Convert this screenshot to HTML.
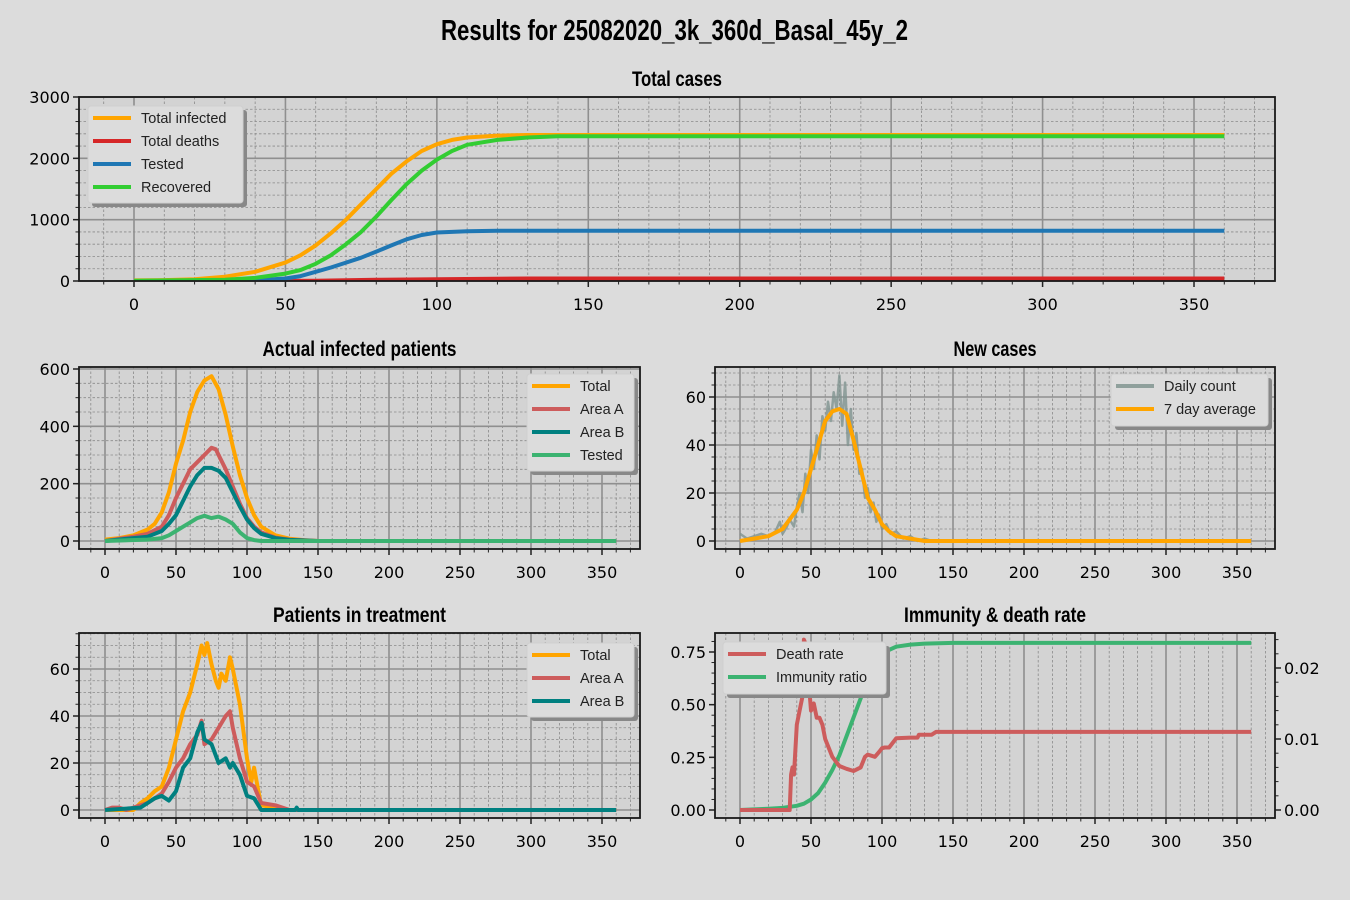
<!DOCTYPE html>
<html><head><meta charset="utf-8"><style>
body{margin:0;background:#dcdcdc;}
svg{display:block;}
text{font-family:"DejaVu Sans","Liberation Sans",sans-serif;}
.ttl{font-family:"Liberation Sans",sans-serif;font-weight:bold;}
.lg{font-family:"Liberation Sans",sans-serif;font-size:14.5px;fill:#222;}
</style></head><body>
<svg id="fig" width="1350" height="900" xmlns="http://www.w3.org/2000/svg">
<rect width="1350" height="900" fill="#dcdcdc"/>
<text class="ttl" x="441" y="40" font-size="29" textLength="467" lengthAdjust="spacingAndGlyphs">Results for 25082020_3k_360d_Basal_45y_2</text>
</svg>
<script>
// ---- data: Total cases ----
const tcDays=[0,10,20,30,40,50,55,60,65,70,75,80,85,90,95,100,105,110,120,130,360];
const tcInfected=[10,15,30,70,150,300,420,580,780,1000,1250,1500,1750,1950,2120,2230,2300,2340,2370,2380,2380];
const recDays=[0,30,40,50,55,60,65,70,75,80,85,90,95,100,105,110,120,130,140,360];
const tcRecovered=[5,20,50,120,180,280,420,600,800,1050,1320,1580,1800,1980,2120,2220,2300,2340,2360,2360];
const testDays=[0,40,50,55,60,65,70,75,80,85,90,95,100,110,120,360];
const tcTested=[0,10,40,80,150,220,300,380,480,580,680,750,790,810,820,820];
const deathDays=[0,40,60,80,100,130,360];
const tcDeaths=[0,0,5,20,30,40,40];
// ---- Actual infected ----
const aiDays=[0,10,20,30,35,40,45,50,55,60,65,70,75,80,85,90,95,100,105,110,120,130,140,150,360];
const aiTotal=[5,10,20,40,60,100,170,270,350,450,520,560,575,530,440,330,230,150,90,50,20,8,3,0,0];
const aiDaysA=[0,10,20,30,40,45,50,55,60,65,70,75,78,80,85,90,95,100,105,110,120,130,150,360];
const aiAreaA=[0,8,15,25,50,90,150,200,250,275,300,325,320,300,250,190,130,80,50,30,12,5,0,0];
const aiDaysB=[0,20,30,40,45,50,55,60,65,70,75,80,85,90,95,100,105,110,120,130,150,360];
const aiAreaB=[0,10,15,35,60,90,140,190,230,255,255,245,220,170,120,75,45,25,10,4,0,0];
const aiDaysT=[0,30,40,45,50,55,60,65,70,75,80,85,90,95,100,105,110,360];
const aiTested=[0,5,10,20,35,50,65,80,88,80,85,75,60,30,10,3,0,0];
// ---- New cases ----
const ncDays=[0,5,10,15,20,25,28,30,33,35,38,40,42,44,46,48,50,52,54,56,58,60,62,64,66,68,70,72,74,76,78,80,82,84,86,88,90,92,94,96,98,100,103,106,110,115,120,125,130,135,360];
const ncDaily=[3,1,2,3,2,4,8,3,6,9,6,14,20,12,28,20,38,30,44,34,52,46,58,50,62,55,69,48,66,40,55,38,45,28,30,18,22,12,16,8,11,5,7,3,4,1,2,0,1,0,0];
const avgDays=[0,10,20,30,40,45,50,55,60,65,70,75,80,85,90,95,100,105,110,120,130,360];
const ncAvg=[0,1,2,5,13,20,30,40,50,54,55,53,42,30,18,13,7,4,2,1,0,0];
// ---- Patients in treatment ----
const ptDays=[0,20,25,30,35,40,45,50,55,60,65,68,70,72,75,78,80,82,85,88,90,95,100,103,105,108,110,120,130,360];
const ptTotal=[0,0,3,5,8,10,18,30,42,50,62,70,66,71,62,55,52,58,55,65,60,45,22,12,18,8,2,1,0,0];
const ptDaysA=[0,5,10,15,25,30,35,40,45,50,55,60,65,68,70,75,80,85,88,90,95,100,105,110,120,125,130,360];
const ptAreaA=[0,1,1,0,2,3,5,7,12,18,22,28,32,38,28,30,35,40,42,35,22,12,10,3,2,1,0,0];
const ptDaysB=[0,25,30,35,40,45,50,55,60,65,68,70,75,80,85,88,90,95,100,105,108,110,134,135,136,360];
const ptAreaB=[0,1,3,5,6,4,8,18,22,33,37,30,28,20,22,18,20,15,6,5,2,0,0,1,0,0];
// ---- Immunity & death rate ----
const imDays=[0,10,20,30,35,40,45,50,55,60,65,70,75,80,85,90,95,100,105,110,120,130,150,360];
const imRatio=[0,0.003,0.006,0.01,0.015,0.02,0.03,0.05,0.08,0.13,0.19,0.26,0.35,0.44,0.53,0.62,0.69,0.73,0.76,0.775,0.785,0.79,0.793,0.793];
const drDays=[0,35,36,37,38,40,42,44,45,47,48,50,52,54,56,58,60,65,70,75,80,83,85,88,90,95,98,100,102,105,110,120,125,126,135,138,360];
const drRate=[0,0,0.005,0.006,0.005,0.012,0.014,0.016,0.024,0.023,0.019,0.014,0.015,0.013,0.013,0.012,0.01,0.0075,0.0062,0.0058,0.0055,0.0058,0.006,0.0075,0.0078,0.0075,0.0082,0.0087,0.0088,0.0088,0.0101,0.0102,0.0102,0.0106,0.0106,0.011,0.011];

const NS='http://www.w3.org/2000/svg';
const fig=document.getElementById('fig');
function mk(tag,attrs,parent){const e=document.createElementNS(NS,tag);for(const k in attrs)e.setAttribute(k,attrs[k]);(parent||fig).appendChild(e);return e;}
let clipN=0;
function panel(p){
  const g=mk('g',{});
  
  
  const X=d=>p.xa+d*p.xb, Y=v=>p.ya-v*p.yb;
  mk('rect',{x:p.x0,y:p.y0,width:p.x1-p.x0,height:p.y1-p.y0,fill:'#d3d3d3'},g);
  for(let d=-20;d<=380;d+=10){const x=X(d);if(x<=p.x0||x>=p.x1)continue;
    if(d%50!==0)mk('line',{x1:x,x2:x,y1:p.y0,y2:p.y1,stroke:'#8a8a8a','stroke-width':0.8,'stroke-dasharray':'2.5,2'},g);}
  if(!p.noY){for(let v=p.ymin;v<=p.ymax+1e-9;v+=p.yminor){const y=Y(v);if(y<=p.y0||y>=p.y1)continue;
    if(Math.abs(v/p.ymajor-Math.round(v/p.ymajor))>1e-6)mk('line',{x1:p.x0,x2:p.x1,y1:y,y2:y,stroke:'#8a8a8a','stroke-width':0.8,'stroke-dasharray':'2.5,2'},g);}}
  for(let d=0;d<=350;d+=50){const x=X(d);mk('line',{x1:x,x2:x,y1:p.y0,y2:p.y1,stroke:'#8f8f8f','stroke-width':1.6},g);
    mk('line',{x1:x,x2:x,y1:p.y1,y2:p.y1+6,stroke:'#222','stroke-width':1.5},g);
    const t=mk('text',{x:x,y:p.y1+29,'font-size':16,'text-anchor':'middle'},g);t.textContent=d;
    
    }
  for(let d=-20;d<=380;d+=10){const x=X(d);if(x<p.x0||x>p.x1||d%50===0)continue;
    mk('line',{x1:x,x2:x,y1:p.y1,y2:p.y1+3.5,stroke:'#222','stroke-width':1},g);}
  for(let i=0;i<p.yticks.length;i++){const v=p.yticks[i];const y=Y(v);
    if(!p.noY)mk('line',{x1:p.x0,x2:p.x1,y1:y,y2:y,stroke:'#8f8f8f','stroke-width':1.6},g);
    mk('line',{x1:p.x0-6,x2:p.x0,y1:y,y2:y,stroke:'#222','stroke-width':1.5},g);
    const t=mk('text',{x:p.x0-9,y:y+6,'font-size':16,'text-anchor':'end'},g);t.textContent=p.ylabels[i];
    
    }
  for(let v=p.ymin;v<=p.ymax+1e-9;v+=p.yminor){const y=Y(v);if(y<p.y0||y>p.y1)continue;
    mk('line',{x1:p.x0-3.5,x2:p.x0,y1:y,y2:y,stroke:'#222','stroke-width':1},g);}
  const cid='c'+(clipN++);
  const cp=mk('clipPath',{id:cid},g);mk('rect',{x:p.x0,y:p.y0-(p.overflow||0),width:p.x1-p.x0,height:p.y1-p.y0+(p.overflow||0)},cp);
  const sg=mk('g',{'clip-path':'url(#'+cid+')'},g);
  p.series.forEach(s=>{
    const ya=s.ya!==undefined?s.ya:p.ya, yb=s.yb!==undefined?s.yb:p.yb;
    const pts=s.x.map((d,i)=>X(d).toFixed(1)+','+(ya-s.y[i]*yb).toFixed(1)).join(' ');
    const pl=mk('polyline',{points:pts,fill:'none',stroke:s.color,'stroke-width':s.w||4,'stroke-linejoin':'round','stroke-opacity':s.op||1},sg);
    
    
  });
  if(p.right){const r=p.right;
    for(let i=0;i<r.ticks.length;i++){const y=r.ya-r.ticks[i]*r.yb;
      mk('line',{x1:p.x1,x2:p.x1+6,y1:y,y2:y,stroke:'#222','stroke-width':1.5},g);
      const t=mk('text',{x:p.x1+9,y:y+6,'font-size':16},g);t.textContent=r.labels[i];
      
      }
    for(let v=0;v<=0.0245;v+=0.002){const y=r.ya-v*r.yb;mk('line',{x1:p.x1,x2:p.x1+3.5,y1:y,y2:y,stroke:'#222','stroke-width':1},g);}
  }
  mk('rect',{x:p.x0,y:p.y0,width:p.x1-p.x0,height:p.y1-p.y0,fill:'none',stroke:'#1a1a1a','stroke-width':1.8},g);
  const tt=mk('text',{class:'ttl',x:(p.x0+p.x1)/2-p.tw/2,y:p.y0-11,'font-size':21,textLength:p.tw,lengthAdjust:'spacingAndGlyphs'},g);tt.textContent=p.title;
  
  
  const L=p.legend;
  const lg=mk('g',{},g);
  
  
  mk('rect',{x:L.x+4,y:L.y+4,width:L.w,height:L.h,rx:3,fill:'#888'},lg);
  mk('rect',{x:L.x,y:L.y,width:L.w,height:L.h,rx:3,fill:'#dcdcdc',stroke:'#cfcfcf'},lg);
  L.items.forEach((it,i)=>{const y=L.y+12+i*23;
    const e=mk('g',{},lg);
    
    
    mk('line',{x1:L.x+5,x2:L.x+43,y1:y,y2:y,stroke:it[1],'stroke-width':4},e);
    const t=mk('text',{class:'lg',x:L.x+53,y:y+5},e);t.textContent=it[0];});
}
panel({name:'total-cases-chart',title:'Total cases',tw:90,x0:79,x1:1275,y0:97,y1:281,xa:134,xb:3.0286,ya:281,yb:184/3000,
  ymin:0,ymax:3000,ymajor:1000,yminor:200,yticks:[0,1000,2000,3000],ylabels:['0','1000','2000','3000'],
  series:[{id:'total-infected-line',x:tcDays,y:tcInfected,color:'#ffa500'},{id:'total-deaths-line',x:deathDays,y:tcDeaths,color:'#d62728'},
   {id:'tested-line',x:testDays,y:tcTested,color:'#1f77b4'},{id:'recovered-line',x:recDays,y:tcRecovered,color:'#32cd32'}],
  legend:{x:88,y:106,w:155,h:97,items:[['Total infected','#ffa500'],['Total deaths','#d62728'],['Tested','#1f77b4'],['Recovered','#32cd32']]}});
panel({name:'actual-infected-chart',title:'Actual infected patients',tw:194,x0:79,x1:640,y0:367,y1:549,xa:105,xb:1.42,ya:541,yb:172/600,
  ymin:0,ymax:640,ymajor:200,yminor:50,yticks:[0,200,400,600],ylabels:['0','200','400','600'],
  series:[{id:'total-line',x:aiDays,y:aiTotal,color:'#ffa500'},{id:'area-a-line',x:aiDaysA,y:aiAreaA,color:'#cd5c5c'},
   {id:'area-b-line',x:aiDaysB,y:aiAreaB,color:'#008080'},{id:'tested-line',x:aiDaysT,y:aiTested,color:'#3cb371'}],
  legend:{x:527,y:374,w:107,h:97,items:[['Total','#ffa500'],['Area A','#cd5c5c'],['Area B','#008080'],['Tested','#3cb371']]}});
panel({name:'new-cases-chart',title:'New cases',tw:83,x0:715,x1:1275,y0:367,y1:549,xa:740,xb:1.42,ya:541,yb:2.4,
  ymin:0,ymax:72,ymajor:20,yminor:5,yticks:[0,20,40,60],ylabels:['0','20','40','60'],
  series:[{id:'daily-count-line',x:ncDays,y:ncDaily,color:'#7f9490',w:2.5,op:0.8},{id:'seven-day-average-line',x:avgDays,y:ncAvg,color:'#ffa500',w:4}],
  legend:{x:1111,y:374,w:157,h:52,items:[['Daily count','#8fa09c'],['7 day average','#ffa500']]}});
panel({name:'patients-in-treatment-chart',title:'Patients in treatment',tw:173,x0:79,x1:640,y0:633,y1:818,xa:105,xb:1.42,ya:810,yb:2.35,
  ymin:0,ymax:75,ymajor:20,yminor:5,yticks:[0,20,40,60],ylabels:['0','20','40','60'],
  series:[{id:'total-line',x:ptDays,y:ptTotal,color:'#ffa500'},{id:'area-a-line',x:ptDaysA,y:ptAreaA,color:'#cd5c5c'},{id:'area-b-line',x:ptDaysB,y:ptAreaB,color:'#008080'}],
  legend:{x:527,y:643,w:107,h:74,items:[['Total','#ffa500'],['Area A','#cd5c5c'],['Area B','#008080']]}});
panel({name:'immunity-death-rate-chart',title:'Immunity & death rate',tw:182,x0:715,x1:1275,y0:633,y1:818,xa:740,xb:1.42,ya:810,yb:210.67,noY:true,overflow:10,
  ymin:0,ymax:0.82,ymajor:0.25,yminor:0.05,yticks:[0,0.25,0.5,0.75],ylabels:['0.00','0.25','0.50','0.75'],
  right:{ya:810,yb:7100,ticks:[0,0.01,0.02],labels:['0.00','0.01','0.02']},
  series:[{id:'immunity-ratio-line',x:imDays,y:imRatio,color:'#3cb371',w:4},{id:'death-rate-line',x:drDays,y:drRate,color:'#cd5c5c',w:4,ya:810,yb:7100}],
  legend:{x:723,y:642,w:163,h:52,items:[['Death rate','#cd5c5c'],['Immunity ratio','#3cb371']]}});
</script>
</body></html>
